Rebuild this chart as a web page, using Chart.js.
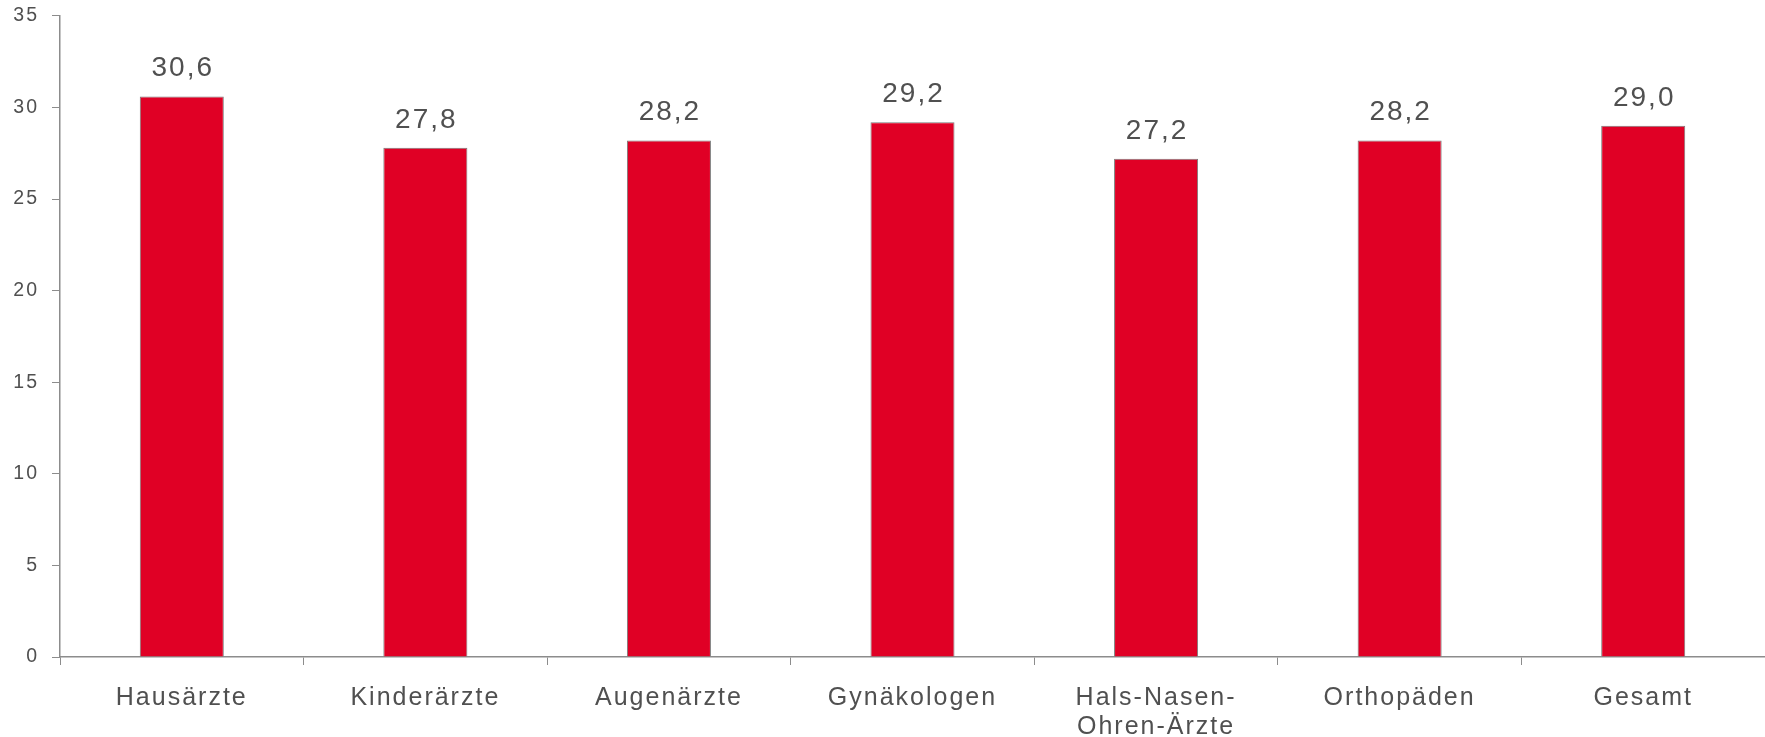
<!DOCTYPE html>
<html>
<head>
<meta charset="utf-8">
<script src="https://cdn.jsdelivr.net/npm/chart.js@4.4.1/dist/chart.umd.min.js"></script>
<style>
  html, body { margin: 0; padding: 0; background: #fff; }
  #wrap { width: 1765px; height: 737px; }
</style>
</head>
<body>
<div id="wrap"><canvas id="chart"></canvas></div>
<script>
const categories = ["Hausärzte", "Kinderärzte", "Augenärzte", "Gynäkologen", ["Hals-Nasen-", "Ohren-Ärzte"], "Orthopäden", "Gesamt"];
const values = [30.6, 27.8, 28.2, 29.2, 27.2, 28.2, 29.0];
const yTicks = [0, 5, 10, 15, 20, 25, 30, 35];

const textColor = "#505050";
const axisColor = "#8c8c8c";
const fontFamily = "'Liberation Sans', Arial, sans-serif";

// the original text is set with wide tracking
const tracking = {
  id: "tracking",
  beforeDraw(chart) {
    chart.ctx.letterSpacing = "2px";
  }
};

// value labels above the bars, German decimal comma
const barLabels = {
  id: "barLabels",
  afterDatasetsDraw(chart) {
    const ctx = chart.ctx;
    const meta = chart.getDatasetMeta(0);
    ctx.save();
    ctx.font = "28px " + fontFamily;
    ctx.fillStyle = textColor;
    ctx.textAlign = "center";
    ctx.textBaseline = "bottom";
    meta.data.forEach((bar, i) => {
      ctx.fillText(values[i].toFixed(1).replace(".", ","), bar.x + 1, bar.y - 14);
    });
    ctx.restore();
  }
};

new Chart(document.getElementById("chart"), {
  type: "bar",
  data: {
    labels: categories,
    datasets: [{
      data: values,
      backgroundColor: "#e00025",
      borderColor: "#7a7a7a",
      borderWidth: 1,
      borderSkipped: "start",
      categoryPercentage: 1,
      barPercentage: 0.345,
    }],
  },
  options: {
    responsive: true,
    maintainAspectRatio: false,
    animation: false,
    layout: { padding: { top: 10, right: 0, left: 0, bottom: 0 } },
    plugins: {
      legend: { display: false },
      tooltip: { enabled: false },
    },
    scales: {
      x: {
        grid: {
          drawOnChartArea: false,
          drawTicks: true,
          tickLength: 8,
          color: axisColor,
          offset: true,
        },
        border: { color: axisColor, width: 1.5 },
        ticks: {
          color: textColor,
          font: { family: fontFamily, size: 25, lineHeight: 1.15 },
          padding: 19,
          maxRotation: 0,
          autoSkip: false,
        },
        afterFit: (s) => { s.height = 80; },
      },
      y: {
        min: 0,
        max: 35,
        afterBuildTicks: (s) => { s.ticks = yTicks.map(v => ({ value: v })); },
        grid: {
          drawOnChartArea: false,
          drawTicks: true,
          tickLength: 8,
          color: axisColor,
        },
        border: { color: axisColor, width: 1.5 },
        ticks: {
          color: textColor,
          font: { family: fontFamily, size: 19.5, lineHeight: 0.3 },
          padding: 13,
        },
        afterFit: (s) => { s.width = 60; },
      },
    },
  },
  plugins: [tracking, barLabels],
});
</script>
</body>
</html>
